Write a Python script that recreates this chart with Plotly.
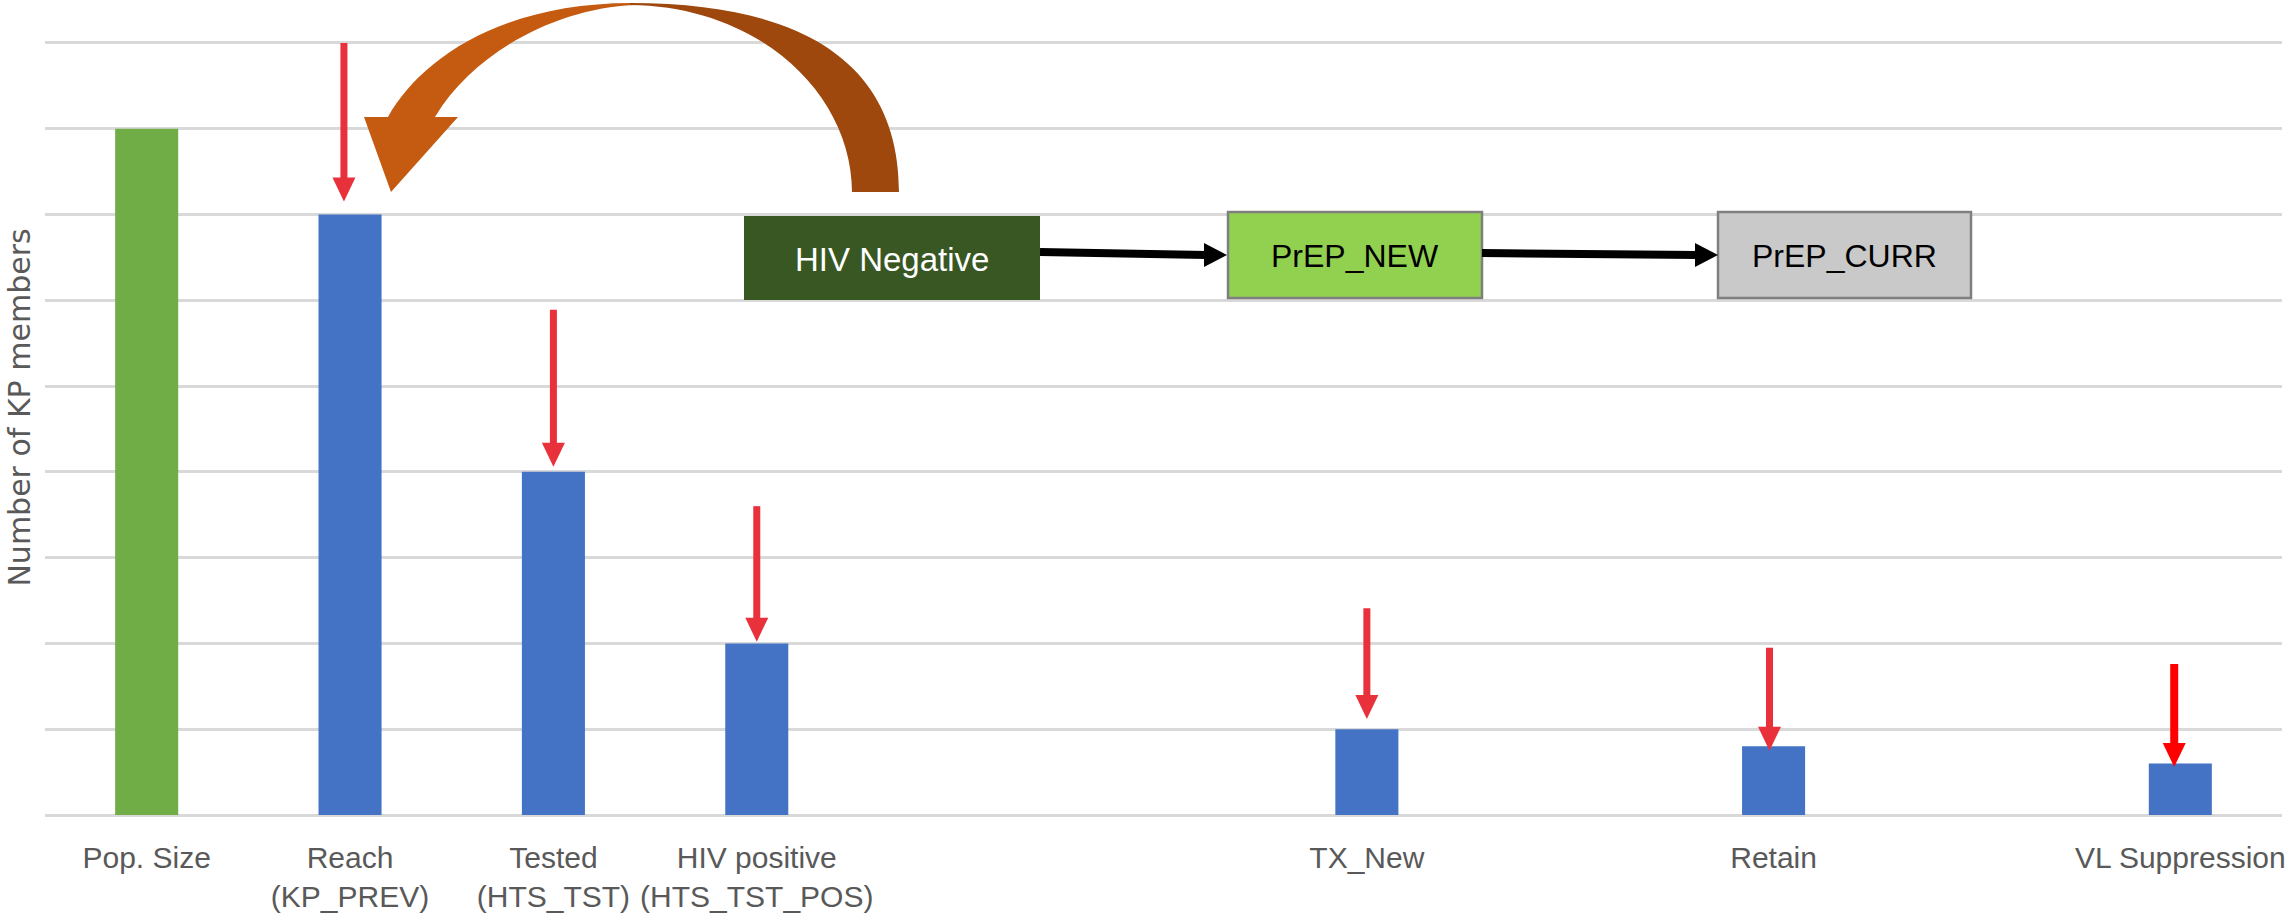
import plotly.graph_objects as go

# ---------------- data ----------------
categories = ["Pop. Size", "Reach<br>(KP_PREV)", "Tested<br>(HTS_TST)",
              "HIV positive<br>(HTS_TST_POS)", "TX_New", "Retain", "VL Suppression"]
values = [8, 7, 4, 2, 1, 0.8, 0.6]
slots = [0, 1, 2, 3, 6, 8, 10]          # category slot on the x axis (11 slots)
bar_colors = ["#70AD47"] + ["#4472C4"] * 6

# red "drop" arrows pointing at bars 2..7
arrow_top = [9.0, 5.89, 3.6, 2.41, 1.95, 1.76]
arrow_tip = [7.15, 4.06, 2.02, 1.12, 0.75, 0.56]
arrow_dx = [-0.03, 0.0, 0.0, 0.0, -0.02, -0.03]
arrow_colors = ["#E8313B"] * 5 + ["#FF0000"]
arrow_widths = [7, 7, 7, 7, 7, 8]

box_labels = ["HIV Negative", "PrEP_NEW", "PrEP_CURR"]

# ---------------- layout geometry ----------------
W, H = 2295, 913
ML, MR, MT, MB = 45, 13, 0, 98
PW, PH = W - ML - MR, H - MT - MB
XR = (-0.5, 10.5)
YR = (0, 9.5)
PXX = PW / (XR[1] - XR[0])
PXY = PH / (YR[1] - YR[0])


def dx(X):
    return (X - ML) / PXX + XR[0]


def dy(Y):
    return (MT + PH - Y) / PXY + YR[0]


def pt(X, Y):
    return f"{dx(X):.4f},{dy(Y):.4f}"


fig = go.Figure()
fig.add_trace(go.Bar(x=slots, y=values, width=0.31, marker_color=bar_colors,
                     marker_line_width=0, hoverinfo="skip", showlegend=False))

shapes = []
annotations = []

# red arrows
head_h = 24 / PXY
head_hw = 11.5 / PXX
for i, (top, tip) in enumerate(zip(arrow_top, arrow_tip)):
    x = slots[i + 1] + arrow_dx[i]
    c = arrow_colors[i]
    shapes.append(dict(type="line", xref="x", yref="y", x0=x, x1=x, y0=top, y1=tip + head_h * 0.9,
                       line=dict(color=c, width=arrow_widths[i])))
    shapes.append(dict(type="path", xref="x", yref="y",
                       path=f"M{x - head_hw},{tip + head_h} L{x + head_hw},{tip + head_h} L{x},{tip} Z",
                       fillcolor=c, line=dict(width=0)))

# curved arrow (left orange half, right brown half)
left_path = ("M" + pt(632, 3) + " C" + pt(500, 3) + " " + pt(420, 60) + " " + pt(388, 117)
             + " L" + pt(364, 117) + " L" + pt(391, 192) + " L" + pt(458, 117) + " L" + pt(435, 117)
             + " C" + pt(475, 50) + " " + pt(560, 8) + " " + pt(634, 5) + " Z")
right_path = ("M" + pt(630, 3) + " C" + pt(820, 3) + " " + pt(899, 75) + " " + pt(899, 192)
              + " L" + pt(852, 192)
              + " C" + pt(852, 95) + " " + pt(760, 6) + " " + pt(630, 5) + " Z")
shapes.append(dict(type="path", xref="x", yref="y", path=left_path,
                   fillcolor="#C55A11", line=dict(width=0)))
shapes.append(dict(type="path", xref="x", yref="y", path=right_path,
                   fillcolor="#9E480E", line=dict(width=0)))

# boxes
boxes = [
    (744, 216, 1040, 300, "#385723", None, "white"),
    (1228, 212, 1482, 298, "#92D050", "#7F7F7F", "black"),
    (1718, 212, 1971, 298, "#C9C9C9", "#7F7F7F", "black"),
]
for (x0, y0, x1, y1, fc, lc, tc), lab in zip(boxes, box_labels):
    shapes.append(dict(type="rect", xref="x", yref="y", x0=dx(x0), x1=dx(x1), y0=dy(y1), y1=dy(y0),
                       fillcolor=fc, line=dict(color=lc or fc, width=2.5 if lc else 0)))
    annotations.append(dict(xref="x", yref="y", x=dx((x0 + x1) / 2), y=dy((y0 + y1) / 2 + 1),
                            text=lab, showarrow=False,
                            font=dict(family="Liberation Sans, Arial, sans-serif",
                                      size=33 if lab == "HIV Negative" else 32, color=tc)))

# black connector arrows
for (xs, ys, xe, ye) in [(1040, 252, 1227, 255), (1482, 253, 1718, 255)]:
    shapes.append(dict(type="line", xref="x", yref="y", x0=dx(xs), y0=dy(ys), x1=dx(xe - 21), y1=dy(ye),
                       line=dict(color="black", width=8)))
    shapes.append(dict(type="path", xref="x", yref="y",
                       path="M" + pt(xe - 23, ye - 12) + " L" + pt(xe - 23, ye + 12) + " L" + pt(xe, ye) + " Z",
                       fillcolor="black", line=dict(width=0)))

fig.update_layout(
    width=W, height=H,
    margin=dict(l=ML, r=MR, t=MT, b=MB, autoexpand=False),
    paper_bgcolor="white", plot_bgcolor="white",
    shapes=shapes, annotations=annotations,
    showlegend=False,
    xaxis=dict(range=list(XR), tickmode="array", tickvals=slots, ticktext=categories,
               showgrid=False, zeroline=False, showline=False, ticks="",
               tickfont=dict(family="Liberation Sans, Arial, sans-serif", size=30, color="#595959"),
               ticklabelstandoff=22, fixedrange=True),
    yaxis=dict(range=list(YR), dtick=1, tick0=0, showticklabels=False, ticks="",
               showgrid=True, gridcolor="#D9D9D9", gridwidth=2.5,
               zeroline=True, zerolinecolor="#D9D9D9", zerolinewidth=2.5, showline=False,
               title=dict(text="Number of KP members", standoff=4,
                          font=dict(family="DejaVu Sans, sans-serif", size=30, color="#595959")),
               automargin=False, fixedrange=True),
)

fig.write_html("out.html", config={"displayModeBar": False},
               post_script="document.body.style.margin='0';document.body.style.overflow='hidden';")
